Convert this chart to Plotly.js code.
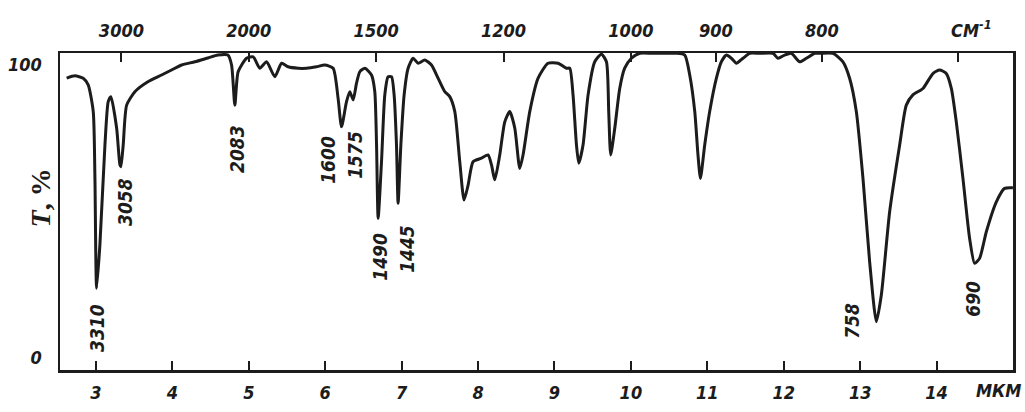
<!DOCTYPE html>
<html>
<head>
<meta charset="utf-8">
<script src="https://cdn.plot.ly/plotly-3.0.1.min.js"></script>
<style>html,body{margin:0;padding:0;background:#fff;}#chart{width:1025px;height:412px;}</style>
</head>
<body>
<div id="chart"></div>
<script>
// Wavelength, micrometres
const wavelength = [2.617,2.725,2.834,2.899,2.965,2.987,3.009,3.052,3.118,3.161,3.196,3.271,3.314,3.327,3.357,3.402,3.510,3.680,3.859,3.990,4.121,4.295,4.465,4.596,4.727,4.775,4.818,4.861,4.971,
5.058,5.145,5.233,5.341,5.429,5.515,5.646,5.756,5.887,5.995,6.104,6.169,6.214,6.279,6.322,6.366,6.410,6.453,6.519,6.606,6.649,6.672,6.693,6.737,6.780,6.823,6.868,6.902,6.933,6.954,6.990,7.033,7.085,7.150,7.216,7.303,7.391,7.477,7.565,
7.630,7.696,7.761,7.817,7.870,7.935,8.045,8.131,8.176,8.219,8.284,8.350,8.415,8.481,8.546,8.589,8.677,8.786,8.916,9.047,9.157,9.200,9.243,9.288,9.318,9.374,9.440,9.527,9.615,9.680,9.710,9.736,9.789,9.854,9.919,10.007,
10.116,10.290,10.596,10.705,10.770,10.836,10.878,10.910,10.966,11.031,11.119,11.184,11.250,11.315,11.381,11.467,11.555,11.685,11.859,11.925,12.012,12.100,12.208,12.296,12.405,12.470,
12.644,12.775,12.862,12.950,13.037,13.124,13.212,13.277,13.386,13.517,13.604,13.690,13.822,13.952,14.040,14.127,14.193,14.258,14.345,14.432,14.498,14.563,14.651,14.782,14.890,14.999];
// Transmittance, %
const transmittance = [95.5,96.3,95.5,93.2,84.1,61.4,23.8,38.6,72.7,87.5,89.2,78.5,65.9,65.3,72.7,86.3,90.9,94.3,96.6,98.3,100.0,101.1,102.4,103.4,103.4,100.0,86.3,97.7,102.3,
102.8,98.9,101.1,96.0,100.6,99.4,98.9,98.9,99.4,100.0,98.9,88.6,78.9,87.5,90.9,88.1,93.8,97.7,98.9,96.6,90.9,72.7,47.7,67.0,89.8,96.0,96.0,89.8,72.7,52.8,72.7,89.8,98.9,102.3,100.6,101.7,100.0,95.5,90.9,
89.2,84.1,67.0,53.9,59.0,67.0,68.2,69.3,65.9,60.8,69.3,80.6,84.1,78.4,64.7,69.3,84.1,95.5,100.6,100.6,98.9,98.9,89.8,72.7,66.5,72.7,89.8,101.1,103.7,101.1,84.1,69.3,78.4,92.0,98.9,102.3,
104.0,104.0,104.0,103.4,96.6,84.1,69.3,61.3,72.7,84.1,95.5,101.1,103.4,102.3,100.6,102.3,104.0,104.0,104.0,102.3,103.4,104.0,101.1,102.3,104.0,104.0,
104.0,101.1,95.5,84.1,61.3,32.9,12.4,21.5,49.9,72.7,86.3,89.8,92.0,97.1,98.3,97.1,92.0,80.6,61.3,40.9,32.3,34.0,43.1,53.3,57.9,58.1];

const bottomTicks = [3,4,5,6,7,8,9,10,11,12,13,14];
const bottomLabels = ["3","4","5","6","7","8","9","10","11","12","13","14"];
const topWavenumbers = [3000,2000,1500,1200,1000,900,800];
const topLabels = ["3000","2000","1500","1200","1000","900","800"];
const topUnlabeled = [700];

const peakLabels = ["3310","3058","2083","1600","1575","1490","1445","758","690"];
const peakLabelX = [3.013,3.379,4.844,6.035,6.388,6.715,7.068,12.889,14.472];
const peakLabelY = [10.2,53.2,71.3,67.6,69.3,34.5,37.2,12.6,20.1];

const ink = '#1c1c1c';
const fam = 'DejaVu Sans Condensed, DejaVu Sans, sans-serif';
const tickFont = {family:fam, size:18, color:ink, style:'italic', weight:'bold'};
const xr = [2.53, 15.0];

const traces = [
  {x: wavelength, y: transmittance, type:'scatter', mode:'lines',
   line:{color:ink, width:3, shape:'spline', smoothing:0.6}, hoverinfo:'skip', showlegend:false},
  {x: wavelength, y: transmittance, type:'scatter', mode:'lines', xaxis:'x2',
   line:{color:'rgba(0,0,0,0)', width:0}, hoverinfo:'skip', showlegend:false}
];

const annotations = peakLabels.map((t,i)=>({
  x: peakLabelX[i], y: peakLabelY[i], xref:'x', yref:'y', text:t, textangle:-90,
  showarrow:false, font:{family:fam, size:19, color:ink, style:'italic', weight:'bold'}
}));
annotations.push({xref:'paper', yref:'paper', x:-0.0388, y:0.543, text:'<b><i>T</i>, %</b>', textangle:-90, showarrow:false,
  font:{family:'Liberation Serif, DejaVu Serif, serif', size:28, color:ink}});
annotations.push({xref:'paper', yref:'paper', x:1.011, xanchor:'right', y:-0.065, yanchor:'middle', text:'МКМ', showarrow:false,
  font:tickFont});
annotations.push({xref:'paper', yref:'paper', x:0.98, y:1.075, yanchor:'middle', text:'СМ<sup>-1</sup>', showarrow:false,
  font:tickFont});

const layout = {
  width:1025, height:412,
  margin:{l:60, r:12, t:53, b:42},
  paper_bgcolor:'#fff', plot_bgcolor:'#fff',
  showlegend:false,
  xaxis:{range:xr, tickvals:bottomTicks, ticktext:bottomLabels, ticks:'inside', ticklen:9, tickwidth:2, tickcolor:ink,
    showline:true, linecolor:ink, linewidth:2.5, mirror:false, showgrid:false, zeroline:false, tickfont:tickFont,
    ticklabelstandoff:5},
  xaxis2:{range:xr, overlaying:'x', side:'top', tickvals:topWavenumbers.map(w=>1e4/w), ticktext:topLabels,
    ticks:'inside', ticklen:9, tickwidth:2, tickcolor:ink, showline:true, linecolor:ink, linewidth:2.5,
    showgrid:false, zeroline:false, tickfont:tickFont, ticklabelstandoff:6,
    minor:{tickvals:topUnlabeled.map(w=>1e4/w), ticks:'inside', ticklen:9, tickwidth:2, tickcolor:ink, showgrid:false}},
  yaxis:{range:[-4.1,104.1], tickvals:[0,100], ticktext:['0','100'], ticks:'', showline:true, mirror:true,
    linecolor:ink, linewidth:2.5, showgrid:false, zeroline:false, tickfont:tickFont, ticklabelstandoff:12},
  annotations:annotations
};

Plotly.newPlot('chart', traces, layout, {staticPlot:true, displayModeBar:false});
</script>
</body>
</html>
